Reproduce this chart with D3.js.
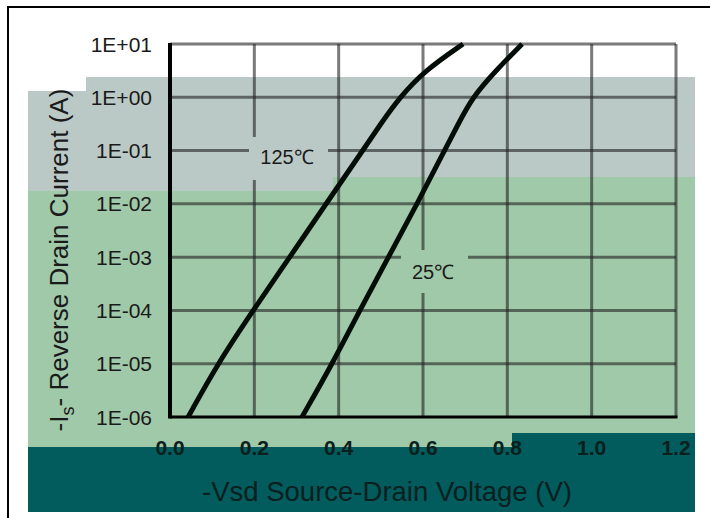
<!DOCTYPE html>
<html>
<head>
<meta charset="utf-8">
<script src="https://cdn.jsdelivr.net/npm/d3@7"></script>
<style>
  body { margin: 0; background: #fff; }
  svg { display: block; }
  text { font-family: "Liberation Sans", Arial, sans-serif; }
</style>
</head>
<body>
<div id="chart"></div>
<script>
// values
var currents = [1e-6, 1e-5, 1e-4, 1e-3, 1e-2, 1e-1, 0.32, 1, 3.2, 10];
var volt125 = [0.043, 0.113, 0.197, 0.284, 0.370, 0.457, 0.500, 0.545, 0.605, 0.695];
var volt25  = [0.313, 0.385, 0.450, 0.518, 0.586, 0.651, 0.684, 0.717, 0.773, 0.835];

var xTicks = [0.0, 0.2, 0.4, 0.6, 0.8, 1.0, 1.2];
var xTickLabels = ["0.0", "0.2", "0.4", "0.6", "0.8", "1.0", "1.2"];
var yTicks = [1e-6, 1e-5, 1e-4, 1e-3, 1e-2, 1e-1, 1, 10];
var yTickLabels = ["1E-06", "1E-05", "1E-04", "1E-03", "1E-02", "1E-01", "1E+00", "1E+01"];

const W = 710, H = 518;

var svg = d3.select("#chart").append("svg")
    .attr("width", W)
    .attr("height", H);

// page frame (only left and top edges show)
svg.append("path")
    .attr("d", "M8," + H + "V7H" + W)
    .attr("fill", "none")
    .attr("stroke", "#000")
    .attr("stroke-width", 2);

// coloured bands behind the chart
var gray = "#bac9c6", green = "#a0c9a9", teal = "#025b5c";
svg.append("path")
    .attr("d", "M28,91H86V77H695V177H333V191H28Z")
    .attr("fill", gray);
svg.append("path")
    .attr("d", "M28,191H333V177H695V433H512V447H28Z")
    .attr("fill", green);
svg.append("path")
    .attr("d", "M28,447H512V433H695V512H28Z")
    .attr("fill", teal);

var x = d3.scaleLinear().domain([0, 1.2]).range([170, 676]);
var y = d3.scaleLog().domain([1e-6, 10]).range([417, 44]);

// grid
var grid = svg.append("g")
    .attr("stroke", "#222")
    .attr("stroke-opacity", 0.6)
    .attr("stroke-width", 3);

grid.selectAll(".vg")
    .data(xTicks.slice(1))
    .enter().append("line")
    .attr("x1", d => x(d)).attr("x2", d => x(d))
    .attr("y1", y(10)).attr("y2", y(1e-6));

grid.selectAll(".hg")
    .data(yTicks.slice(1))
    .enter().append("line")
    .attr("x1", x(0)).attr("x2", x(1.2))
    .attr("y1", d => y(d)).attr("y2", d => y(d));

// axes lines
svg.append("line")
    .attr("x1", x(0)).attr("x2", x(0))
    .attr("y1", y(10) - 1).attr("y2", y(1e-6) + 1.5)
    .attr("stroke", "#000").attr("stroke-width", 4);
svg.append("line")
    .attr("x1", x(0)).attr("x2", x(1.2) + 1.5)
    .attr("y1", y(1e-6)).attr("y2", y(1e-6))
    .attr("stroke", "#000").attr("stroke-width", 3);

// curve labels (mask the grid behind them)
svg.append("rect").attr("x", 249).attr("y", 137).attr("width", 79).attr("height", 43).attr("fill", gray);
svg.append("rect").attr("x", 401).attr("y", 250).attr("width", 67).attr("height", 43).attr("fill", green);

svg.append("text")
    .attr("x", 287).attr("y", 164)
    .attr("text-anchor", "middle")
    .attr("font-size", 20)
    .attr("fill", "#1a1a1a")
    .text("125\u2103");
svg.append("text")
    .attr("x", 433).attr("y", 279)
    .attr("text-anchor", "middle")
    .attr("font-size", 20)
    .attr("fill", "#1a1a1a")
    .text("25\u2103");

// curves
var line = d3.line()
    .x(d => x(d.v))
    .y(d => y(d.i))
    .curve(d3.curveBasis);

[volt125, volt25].forEach(function(vs) {
    var pts = vs.map(function(v, k) { return { v: v, i: currents[k] }; });
    svg.append("path")
        .datum(pts)
        .attr("d", line)
        .attr("fill", "none")
        .attr("stroke", "#050d08")
        .attr("stroke-width", 5);
});

// tick labels
svg.append("g").selectAll("text")
    .data(yTicks)
    .enter().append("text")
    .attr("x", 152)
    .attr("y", d => y(d))
    .attr("dy", "0.36em")
    .attr("text-anchor", "end")
    .attr("font-size", 21)
    .attr("fill", "#1a1a1a")
    .text((d, i) => yTickLabels[i]);

svg.append("g").selectAll("text")
    .data(xTicks)
    .enter().append("text")
    .attr("x", d => x(d))
    .attr("y", 455)
    .attr("text-anchor", "middle")
    .attr("font-size", 21)
    .attr("font-weight", "bold")
    .attr("fill", "#0b1f1c")
    .text((d, i) => xTickLabels[i]);

// axis titles
svg.append("text")
    .attr("x", 387).attr("y", 501)
    .attr("text-anchor", "middle")
    .attr("font-size", 27.5)
    .attr("fill", "#0b1f1f")
    .text("-Vsd Source-Drain Voltage (V)");

var yt = svg.append("text")
    .attr("transform", "translate(68,260) rotate(-90)")
    .attr("text-anchor", "middle")
    .attr("font-size", 26)
    .attr("fill", "#1a1a1a");
yt.append("tspan").text("-I");
yt.append("tspan").attr("font-size", 18).attr("dy", 6).text("s");
yt.append("tspan").attr("dy", -6).text("- Reverse Drain Current (A)");
</script>
</body>
</html>
